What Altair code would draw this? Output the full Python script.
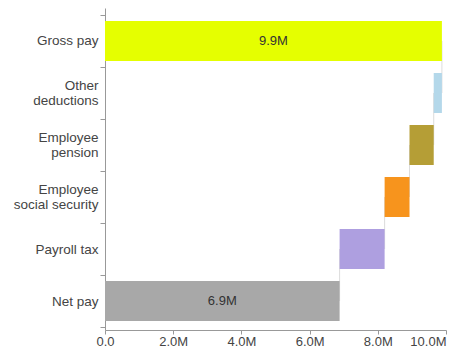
import altair as alt
import pandas as pd

categories = ["Gross pay", "Other deductions", "Employee pension",
              "Employee social security", "Payroll tax", "Net pay"]
label_lines = [["Gross pay"], ["Other", "deductions"], ["Employee", "pension"],
               ["Employee", "social security"], ["Payroll tax"], ["Net pay"]]
amounts = [9.88, -0.24, -0.71, -0.73, -1.32, 6.88]  # millions
kinds = ["total", "delta", "delta", "delta", "delta", "total"]
colors = ["#e5ff00", "#b4d8ea", "#b59e36", "#f7941d", "#ae9fe0", "#a8a8a8"]
x_ticks = [0, 2, 4, 6, 8, 10]

# waterfall table
rows = []
level = 0.0
levels_after = []
for c, a, k, col in zip(categories, amounts, kinds, colors):
    if k == "total":
        start, end = 0.0, a
        level = a
    else:
        start, end = level + a, level
        level = level + a
    levels_after.append(level)
    rows.append({"cat": c, "start": start, "end": end, "amount": a,
                 "kind": k, "color": col, "mid": (start + end) / 2})
df = pd.DataFrame(rows)

conn = pd.DataFrame({
    "from": categories[:-1],
    "to": categories[1:],
    "x": levels_after[:-1],
})

expr_parts = []
multi = []
for c, lines in zip(categories, label_lines):
    if len(lines) > 1:
        multi.append(c)
        arr = "[" + ",".join("'" + s + "'" for s in lines) + "]"
        expr_parts.append(f"datum.label == '{c}' ? {arr} : ")
label_expr = "".join(expr_parts) + "datum.label"
multi_test = "indexof([" + ",".join("'" + c + "'" for c in multi) + "], datum.value) >= 0"

yscale = alt.Scale(domain=categories, paddingInner=0, paddingOuter=0.096, align=0.7)
xscale = alt.Scale(domain=[0, 10], nice=False)

y_axis = alt.Axis(title=None, tickBand="extent", labelAlign="right", labelBaseline="middle",
                  labelFontSize=13.5, labelColor="#444", tickSize=5, labelPadding=2,
                  labelLineHeight=15, domainColor="#999", tickColor="#999",
                  labelOffset=alt.condition(multi_test, alt.value(-7.5), alt.value(0)),
                  labelExpr=label_expr, labelFont="Liberation Sans")
x_axis = alt.Axis(title=None, values=x_ticks, grid=False, labelFontSize=13, labelColor="#444",
                  tickSize=4, labelPadding=1, domainColor="#999", tickColor="#999",
                  labelFont="Liberation Sans", labelFlush=False,
                  labelAlign=alt.condition("datum.value >= 10", alt.value("right"), alt.value("center")),
                  labelExpr="datum.value == 0 ? '0.0' : format(datum.value, '.1f') + 'M'")

rules = alt.Chart(conn).mark_rule(color="#dcdcdc", strokeWidth=1).encode(
    x=alt.X("x:Q", scale=xscale, axis=x_axis),
    y=alt.Y("from:N", scale=yscale, axis=y_axis, sort=categories),
    y2="to:N",
)

bars = alt.Chart(df).mark_bar(height=alt.RelativeBandSize(band=0.77)).encode(
    x=alt.X("start:Q", scale=xscale, axis=x_axis),
    x2="end:Q",
    y=alt.Y("cat:N", scale=yscale, axis=y_axis, sort=categories),
    color=alt.Color("color:N", scale=None),
)

texts = alt.Chart(df).transform_filter("datum.kind == 'total'").transform_calculate(
    lab="format(datum.amount, '.1f') + 'M'"
).mark_text(fontSize=13, color="#333", font="Liberation Sans").encode(
    x=alt.X("mid:Q", scale=xscale, axis=x_axis),
    y=alt.Y("cat:N", scale=yscale, axis=y_axis, sort=categories),
    text="lab:N",
)

chart = alt.layer(rules, bars, texts).properties(
    width=341, height=322,
    autosize=alt.AutoSizeParams(type="none"),
    padding={"left": 97, "top": 0, "right": 1, "bottom": 20},
).configure_view(stroke=None)

chart.save("out.html", embed_options={"renderer": "svg", "actions": False})
